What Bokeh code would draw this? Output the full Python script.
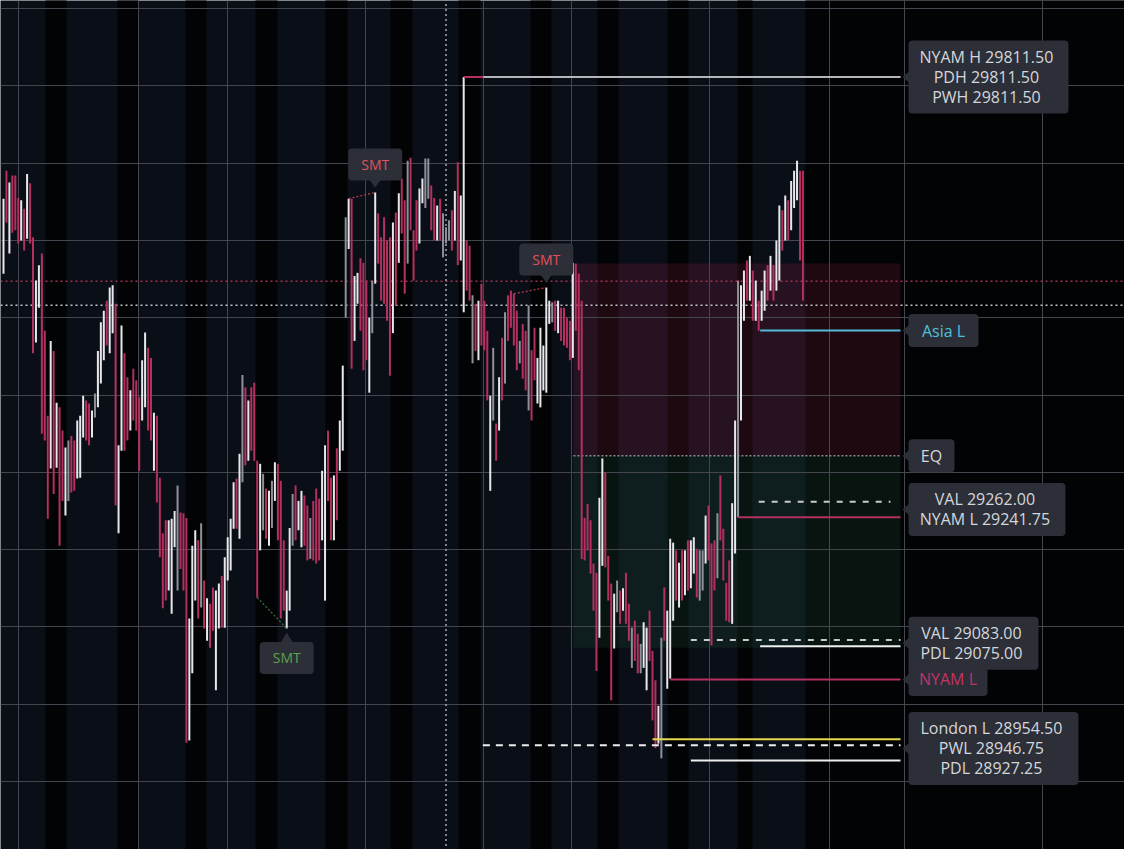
import math
from bokeh.plotting import figure
from bokeh.models import Range1d, FixedTicker, BoxAnnotation, Label
from bokeh.core.properties import value
from bokeh.embed import file_html
from bokeh.resources import INLINE

# ---------------- data ----------------
highs = [
    29654, 29690, 29675, 29684, 29684, 29655, 29652, 29641, 29686, 29674,
    29604, 29548, 29568, 29583, 29483, 29373, 29470, 29457, 29390, 29384,
    29354, 29332, 29341, 29347, 29341, 29367, 29373, 29399, 29393, 29389,
    29380, 29402, 29457, 29494, 29509, 29522, 29539, 29542, 29518, 29335,
    29490, 29454, 29423, 29406, 29434, 29419, 29397, 29445, 29481, 29461,
    29448, 29377, 29373, 29293, 29221, 29238, 29238, 29240, 29250, 29283,
    29248, 29247, 29241, 29111, 29205, 29225, 29212, 29234, 29160, 29137,
    29130, 29151, 29147, 29156, 29166, 29190, 29216, 29240, 29287, 29292,
    29324, 29426, 29410, 29393, 29410, 29416, 29315, 29311, 29298, 29279,
    29276, 29289, 29313, 29311, 29289, 29212, 29147, 29228, 29272, 29283,
    29263, 29276, 29270, 29257, 29241, 29263, 29279, 29266, 29302, 29335,
    29354, 29293, 29296, 29331, 29367, 29438, 29630, 29654, 29654, 29554,
    29558, 29577, 29571, 29548, 29500, 29548, 29662, 29635, 29604, 29630,
    29600, 29604, 29623, 29636, 29661, 29680, 29652, 29703, 29707, 29613,
    29652, 29667, 29680, 29706, 29706, 29671, 29655, 29645, 29654, 29635,
    29617, 29626, 29639, 29664, 29701, 29658, 29811.5, 29600, 29593, 29529,
    29518, 29522, 29544, 29522, 29483, 29399, 29461, 29363, 29423, 29474,
    29507, 29529, 29535, 29531, 29509, 29470, 29492, 29483, 29516, 29458,
    29487, 29448, 29487, 29464, 29539, 29522, 29520, 29522, 29522, 29513,
    29513, 29500, 29496, 29571, 29570, 29557, 29522, 29241, 29259, 29238,
    29182, 29170, 29267, 29318, 29300, 29192, 29156, 29143, 29160, 29147,
    29150, 29170, 29130, 29099, 29108, 29091, 29078, 29106, 29099, 29121,
    29069, 29031, 28998, 29086, 29151, 29121, 29214, 29209, 29199, 29183,
    29199, 29199, 29212, 29212, 29216, 29201, 29199, 29199, 29244, 29257,
    29208, 29212, 29247, 29296, 29227, 29157, 29186, 29260, 29367, 29548,
    29542, 29561, 29574, 29580, 29561, 29548, 29522, 29535, 29561, 29568,
    29580, 29568, 29600, 29645, 29639, 29658, 29652, 29677, 29690, 29703,
    29690, 29690,
]
lows = [
    29557, 29623, 29583, 29610, 29613, 29596, 29600, 29587, 29602, 29596,
    29454, 29468, 29513, 29350, 29341, 29240, 29305, 29272, 29306, 29205,
    29263, 29244, 29263, 29274, 29276, 29292, 29293, 29345, 29341, 29335,
    29345, 29371, 29384, 29415, 29445, 29464, 29454, 29480, 29257, 29221,
    29328, 29328, 29341, 29354, 29367, 29354, 29302, 29367, 29384, 29354,
    29341, 29302, 29261, 29190, 29124, 29134, 29147, 29117, 29203, 29147,
    29175, 29147, 28950, 28953, 29040, 29134, 29111, 29125, 29098, 29082,
    29073, 29095, 29018, 29098, 29099, 29099, 29160, 29173, 29227, 29227,
    29214, 29287, 29309, 29315, 29328, 29315, 29138, 29199, 29225, 29214,
    29205, 29228, 29263, 29212, 29111, 29121, 29098, 29121, 29205, 29212,
    29225, 29203, 29205, 29186, 29188, 29186, 29182, 29186, 29212, 29134,
    29263, 29212, 29212, 29238, 29302, 29328, 29500, 29589, 29434, 29470,
    29518, 29483, 29432, 29445, 29403, 29480, 29544, 29570, 29522, 29518,
    29496, 29425, 29480, 29516, 29571, 29609, 29531, 29570, 29613, 29548,
    29587, 29596, 29648, 29642, 29654, 29613, 29600, 29600, 29600, 29578,
    29596, 29600, 29587, 29600, 29568, 29574, 29507, 29535, 29522, 29441,
    29457, 29445, 29464, 29458, 29393, 29276, 29367, 29315, 29354, 29393,
    29415, 29470, 29487, 29464, 29432, 29441, 29421, 29406, 29380, 29367,
    29419, 29389, 29384, 29406, 29403, 29492, 29494, 29483, 29480, 29470,
    29464, 29461, 29445, 29448, 29483, 29432, 29188, 29186, 29199, 29169,
    29121, 29043, 29086, 29179, 29177, 29134, 29005, 29072, 29119, 29104,
    29121, 29104, 29082, 29047, 29056, 29040, 29040, 29047, 29018, 29056,
    28979, 28943, 28949, 28930, 29082, 29020, 29033, 29108, 29134, 29125,
    29134, 29141, 29147, 29150, 29169, 29138, 29134, 29147, 29182, 29186,
    29076, 29147, 29163, 29212, 29160, 29108, 29106, 29104, 29195, 29241.75,
    29367, 29496, 29522, 29522, 29496, 29496, 29483, 29496, 29509, 29522,
    29535, 29522, 29535, 29548, 29587, 29600, 29600, 29613, 29642, 29652,
    29574, 29522,
]
# u = up bar, d = down bar, g = neutral bar
kinds = ("ududddudud duudddudud dugdduuudd uguuuduudu udduddduud "
         "dudddduuug ddduuudgdu dduuduuuud ugdudddugd uguddduugd "
         "uuddgddduu dduduugudu uddduguddd ddududdgdd duuggddudg "
         "ggduduuddg dudddugdud gddddgddgd duuuuugdud dddudddddd "
         "dduudddugd uddgddguud ddugduuudu duduudggud ddgdddduug "
         "uudududuud uduududuuu dd").replace(" ", "")

# key levels
level_names = ["NYAM H", "PDH", "Asia L", "VAL", "NYAM L", "VAL", "PDL", "NYAM L", "London L", "PWL", "PDL"]
level_prices = [29811.50, 29811.50, 29483.40, 29262.00, 29241.75, 29083.00, 29075.00, 29032.00, 28954.50, 28946.75, 28927.25]
level_start_bar = [156, 162.7, 256.5, 256, 249, 233, 256.5, 226, 220, 162.5, 233]

ny_open_levels = [29547.0, 29516.0]     # dotted full-width lines
crosshair_bar = 150
position_top, position_eq, position_bottom = 29570.0, 29321.5, 29073.0
position_start_bar = 193.2

smt_pairs = [(117, 126, "high", "bear"), (173, 184, "high", "bear"), (86, 96, "low", "bull")]

tag_groups = [
    [("NYAM H", 29811.50), ("PDH", 29811.50), ("PWH", 29811.50)],
    [("Asia L", None)],
    [("EQ", None)],
    [("VAL", 29262.00), ("NYAM L", 29241.75)],
    [("NYAM L", None)],
    [("VAL", 29083.00), ("PDL", 29075.00)],
    [("London L", 28954.50), ("PWL", 28946.75), ("PDL", 28927.25)],
]
tag_anchor = [29811.50, 29483.40, 29321.5, 29251.9, 29032.0, 29079.0, 28942.8]

# ---------------- layout / style ----------------
PX_PER_BAR = 2.95
PX_PER_PT = 0.773
BAR0_PX = 3.0
W, H = 1124, 849
TOP_PRICE = 29910.35   # price at the top pixel row

def bx(px):
    return (px - BAR0_PX) / PX_PER_BAR

def dpx(px):
    return px / PX_PER_BAR

def dpy(px):
    return px / PX_PER_PT

NAVY = "#0a0e17"
BLACK = "#020305"
UP = "#e8e8ec"
DOWN = "#b3305f"
GRAY = "#8f919a"
PINK = "#b3305f"
TAG_BG = "#2c2f37"
TAG_TXT = "#d4d6dc"
FONT = "Open Sans"

p = figure(width=W, height=H,
           x_range=Range1d(bx(0), bx(W)),
           y_range=Range1d(TOP_PRICE - H / PX_PER_PT, TOP_PRICE),
           output_backend="svg", toolbar_location=None, min_border=0,
           background_fill_color=NAVY, border_fill_color=NAVY,
           outline_line_color=None)
p.xaxis.visible = False
p.yaxis.visible = False
grid_px = [18, 138, 227, 365, 483, 571, 709, 829, 904, 1042]
p.xgrid.ticker = FixedTicker(ticks=[bx(v) for v in grid_px])
p.ygrid.ticker = FixedTicker(ticks=list(range(28900, 30000, 100)))
for g in (p.xgrid, p.ygrid):
    g.grid_line_color = "#44474f"
    g.grid_line_width = 1

# session shading bands
band_px = [45, 117, 185, 255, 325, 390, 458, 530, 597, 667, 737]
band_w = [21, 21, 21, 22, 22, 22, 22, 21, 21, 21, 15]
p.quad(left=[bx(a) for a in band_px], right=[bx(a + w) for a, w in zip(band_px, band_w)],
       top=TOP_PRICE + 50, bottom=28700, fill_color=BLACK, line_color=None, level="image")
p.quad(left=[bx(805)], right=[bx(1300)], top=TOP_PRICE + 50, bottom=28700,
       fill_color=BLACK, line_color=None, level="image")

# position tool box
end_bar = bx(900)
p.quad(left=[position_start_bar], right=[end_bar], top=[position_top], bottom=[position_eq],
       fill_color="#b4284f", fill_alpha=0.17, line_color=None, level="image")
p.quad(left=[position_start_bar], right=[end_bar], top=[position_eq], bottom=[position_bottom],
       fill_color="#2d8a55", fill_alpha=0.13, line_color=None, level="image")
p.segment(x0=[position_start_bar], y0=[position_eq], x1=[end_bar], y1=[position_eq],
          line_color="#8c8c94", line_width=1.5, line_dash="2 2")

# full width dotted lines + crosshair
xr0, xr1 = bx(-10), bx(1140)
p.segment(x0=[xr0], y0=[ny_open_levels[0]], x1=[xr1], y1=[ny_open_levels[0]],
          line_color="#a3304f", line_width=1.5, line_dash="2 3")
p.segment(x0=[xr0], y0=[ny_open_levels[1]], x1=[xr1], y1=[ny_open_levels[1]],
          line_color="#c4c4cc", line_width=1.5, line_dash="2 3")
p.segment(x0=[crosshair_bar], y0=[28700], x1=[crosshair_bar], y1=[TOP_PRICE + 50],
          line_color="#a8a8b0", line_width=1.5, line_dash="2 3")

# candles
idx = list(range(len(highs)))
cmap = {"u": UP, "d": DOWN, "g": GRAY}
cols = [cmap[k] for k in kinds]
p.segment(x0=idx, y0=lows, x1=idx, y1=highs, line_color=cols, line_width=2)

# level lines
level_colors = [PINK, "#b4b6bd", "#52b9d6", "#c9c9d1", PINK, "#c9c9d1", "#eeeeee", PINK, "#e6d94e", "#eeeeee", "#eeeeee"]
level_dash = ["solid", "solid", "solid", "6 7", "solid", "6 7", "solid", "solid", "solid", "7 6", "solid"]
level_end = [end_bar, end_bar, end_bar, bx(890), end_bar, end_bar, end_bar, end_bar, end_bar, end_bar, end_bar]
for price, s, e, c, d in zip(level_prices, level_start_bar, level_end, level_colors, level_dash):
    p.segment(x0=[s], y0=[price], x1=[e], y1=[price], line_color=c, line_width=2, line_dash=d)

# SMT connectors and tags
for a, b, side, kind in smt_pairs:
    ya = highs[a] if side == "high" else lows[a]
    yb = highs[b] if side == "high" else lows[b]
    col = "#c2404f" if kind == "bear" else "#3f7a3c"
    p.segment(x0=[a], y0=[ya], x1=[b], y1=[yb], line_color=col, line_width=1.2, line_dash="2 2")

def add_tag(left, right, top, bottom, color=TAG_BG):
    p.add_layout(BoxAnnotation(left=left, right=right, top=top, bottom=bottom,
                               fill_color=color, fill_alpha=1.0, line_color=None,
                               border_radius=4))

smt_tri_x, smt_tri_y = [], []
smt_texts = []
for a, b, side, kind in smt_pairs:
    if side == "high":
        base = highs[b]
        cy = base + dpy(28)
        smt_tri_x.append([b - dpx(6), b + dpx(6), b])
        smt_tri_y.append([base + dpy(13), base + dpy(13), base + dpy(5)])
        col = "#e0525e"
    else:
        base = lows[b]
        cy = base - dpy(29.5)
        smt_tri_x.append([b - dpx(6), b + dpx(6), b])
        smt_tri_y.append([base - dpy(14), base - dpy(14), base - dpy(4)])
        col = "#5da24f"
    add_tag(b - dpx(27), b + dpx(27), cy + dpy(16), cy - dpy(16))
    smt_texts.append((b, cy, col))
p.patches(xs=smt_tri_x, ys=smt_tri_y, fill_color=TAG_BG, line_color=None)
for b, cy, col in smt_texts:
    p.add_layout(Label(x=b, y=cy, text="SMT", text_font=FONT, text_font_size="14px",
                       text_color=col, text_align="center", text_baseline="middle"))

# right-hand price tags
tag_widths = [160, 70, 46, 157, 79, 130, 170]
tag_colors = [[TAG_TXT] * 3, ["#4fc0dc"], [TAG_TXT], [TAG_TXT] * 2, ["#c2336a"], [TAG_TXT] * 2, [TAG_TXT] * 3]
tri_x, tri_y = [], []
left_px = 908
for anchor in tag_anchor:
    tri_x.append([bx(902), bx(909), bx(909)])
    tri_y.append([anchor, anchor + dpy(6), anchor - dpy(6)])
p.patches(xs=tri_x, ys=tri_y, fill_color=TAG_BG, line_color=None)
for group, anchor, wpx, colors in zip(tag_groups, tag_anchor, tag_widths, tag_colors):
    n = len(group)
    hpx = 13 + 20 * n
    add_tag(bx(left_px), bx(left_px + wpx), anchor + dpy(hpx / 2), anchor - dpy(hpx / 2))
    cx = bx(left_px + wpx / 2)
    for i, ((name, val), col) in enumerate(zip(group, colors)):
        txt = name if val is None else f"{name}  {val:.2f}"
        y = anchor - dpy((i - (n - 1) / 2) * 20)
        p.add_layout(Label(x=cx, y=y, text=txt, text_font=FONT, text_font_size="16px",
                           text_color=col, text_align="center", text_baseline="middle"))

open("out.html", "w").write(file_html(p, INLINE))
